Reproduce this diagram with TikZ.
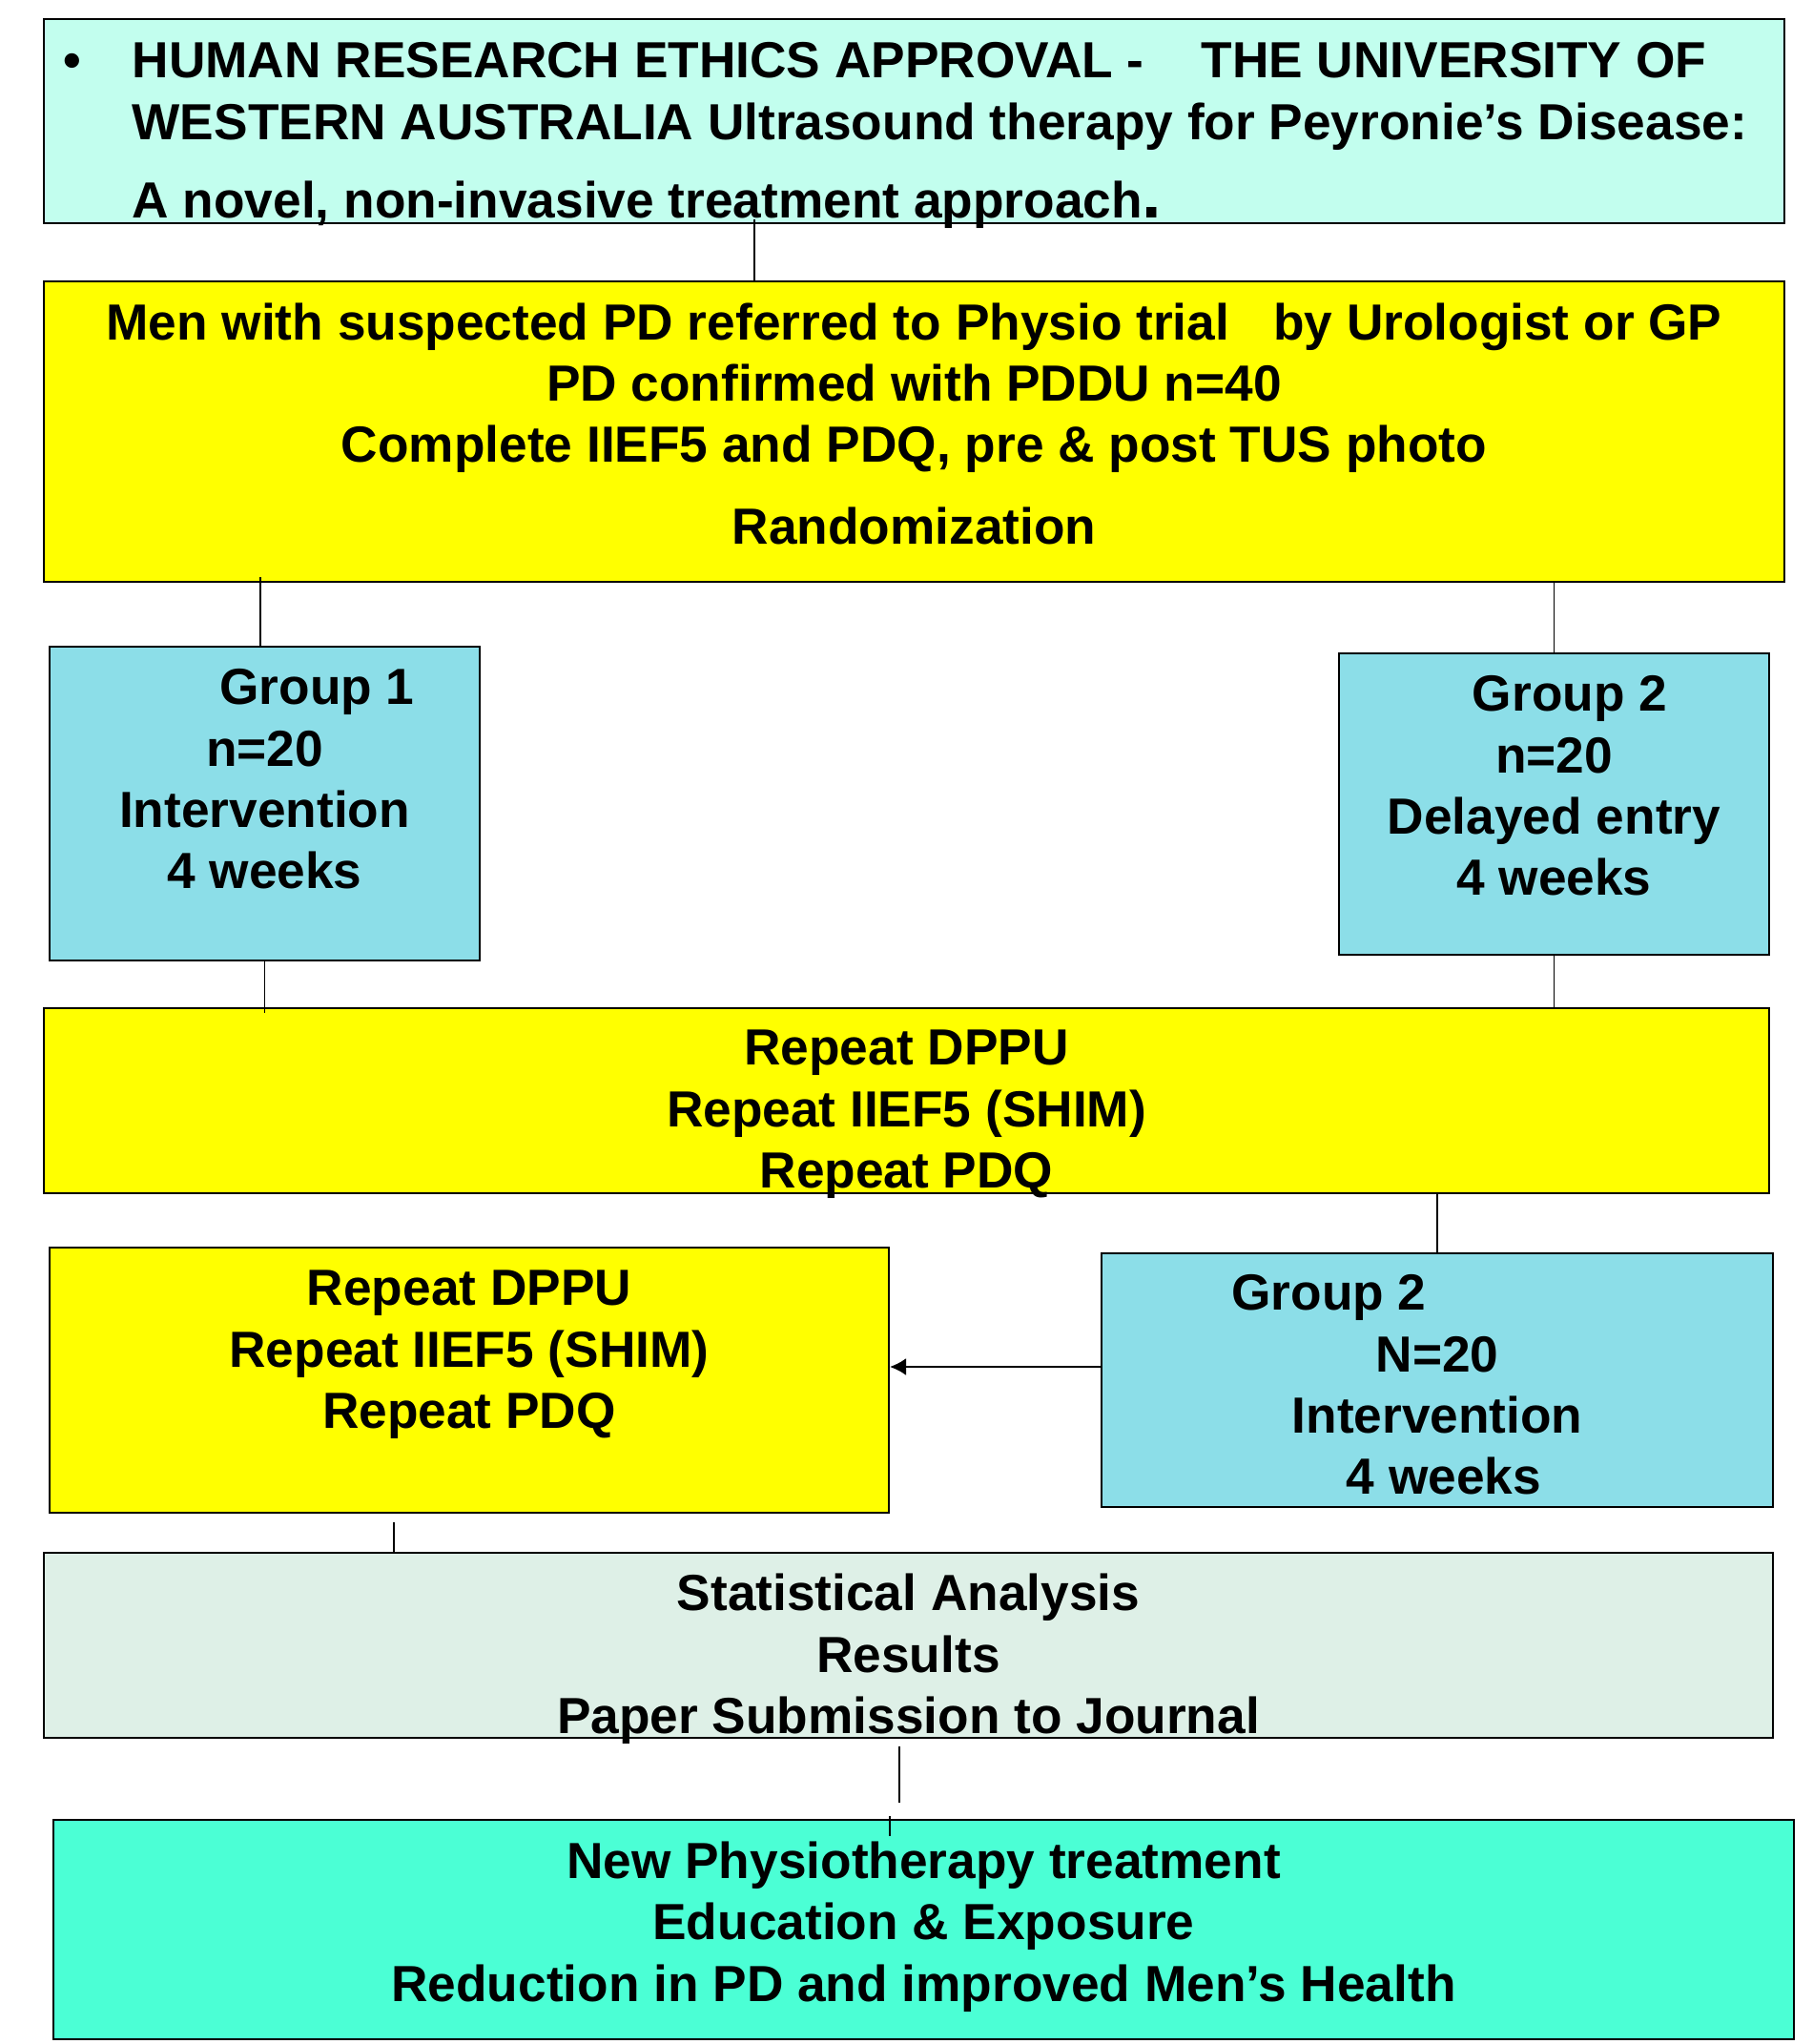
\documentclass[tikz,border=0pt]{standalone}
\usepackage{fontspec}
\setmainfont{Liberation Sans}
\usetikzlibrary{arrows.meta,positioning,calc}
\definecolor{mint}{HTML}{C2FEEE}
\definecolor{lemon}{HTML}{FFFF00}
\definecolor{sky}{HTML}{8CDEE8}
\definecolor{mist}{HTML}{DEF0E7}
\definecolor{aqua}{HTML}{4BFFD5}
\tikzset{box/.style={draw=black,line width=0.6pt,inner sep=0pt}, txt/.style={font=\fontsize{15.15}{18.3}\selectfont\bfseries,align=center,inner sep=0pt}, link/.style={draw=black,line width=0.45pt}, flow/.style={-{Latex[length=1.7mm,width=1.8mm]},line width=0.6pt,draw=black}}

\begin{document}
\begin{tikzpicture}[x=1cm,y=1cm]
\useasboundingbox (0,0) rectangle (19,-21.43);
% boxes
\node[box,fill=mint,minimum width=18.25cm,minimum height=2.14cm] (head) at (9.585,-1.27) {};
\node[box,fill=lemon,minimum width=18.25cm,minimum height=3.15cm] (intake) at (9.585,-4.525) {};
\node[box,fill=sky,minimum width=4.51cm,minimum height=3.29cm] (grp1) at (2.775,-8.425) {};
\node[box,fill=sky,minimum width=4.51cm,minimum height=3.16cm] (grp2) at (16.295,-8.43) {};
\node[box,fill=lemon,minimum width=18.09cm,minimum height=1.94cm] (rep1) at (9.505,-11.54) {};
\node[box,fill=lemon,minimum width=8.80cm,minimum height=2.78cm] (rep2) at (4.92,-14.47) {};
\node[box,fill=sky,minimum width=7.04cm,minimum height=2.66cm] (late) at (15.07,-14.47) {};
\node[box,fill=mist,minimum width=18.13cm,minimum height=1.94cm] (stats) at (9.525,-17.25) {};
\node[box,fill=aqua,minimum width=18.25cm,minimum height=2.30cm] (outcome) at (9.685,-20.23) {};
% texts
\node[txt,align=left,anchor=north west] (headtxt) at (1.38,-0.44) {\llap{\textbullet\hspace{0.54cm}}HUMAN RESEARCH ETHICS APPROVAL -\hspace{0.6cm}THE UNIVERSITY OF\\WESTERN AUSTRALIA Ultrasound therapy for Peyronie’s Disease:\\[0.18cm]A novel, non-invasive treatment approach{\fontsize{21}{21}\selectfont.}};
\node[txt] (intaketxt) at (9.585,-4.44) {Men with suspected PD referred to Physio trial\hspace{0.46cm}by Urologist or GP\\PD confirmed with PDDU n=40\\Complete IIEF5 and PDQ, pre \& post TUS photo\\[0.21cm]Randomization};
\node[txt] (grp1txt) at ([yshift=2.55mm]grp1.center) {\hspace*{1.1cm}Group 1\\n=20\\Intervention\\4 weeks};
\node[txt] (grp2txt) at ([yshift=1.9mm]grp2.center) {\hspace*{0.33cm}Group 2\\n=20\\Delayed entry\\4 weeks};
\node[txt] (rep1txt) at ([yshift=-1.45mm]rep1.center) {Repeat DPPU\\Repeat IIEF5 (SHIM)\\Repeat PDQ};
\node[txt] (rep2txt) at ([yshift=2.65mm]rep2.center) {Repeat DPPU\\Repeat IIEF5 (SHIM)\\Repeat PDQ};
\node[txt] (latetxt) at ([yshift=-0.5mm]late.center) {Group 2\hspace*{2.27cm}\\N=20\\Intervention\\\hspace*{0.14cm}4 weeks};
\node[txt] (statstxt) at ([yshift=-1.45mm]stats.center) {Statistical Analysis\\Results\\Paper Submission to Journal};
\node[txt] (outcometxt) at ([yshift=0.3mm]outcome.center) {New Physiotherapy treatment\\Education \& Exposure\\Reduction in PD and improved Men’s Health};
% connectors
\draw[link] ([xshift=-16.75mm,yshift=0.5mm]head.south) -- ([xshift=-16.75mm]head.south |- intake.north);
\draw[link] ([xshift=-0.45mm,yshift=0.6mm]grp1.north |- intake.south) -- ([xshift=-0.45mm]grp1.north);
\draw[link] (grp2.north |- intake.south) -- (grp2.north);
\draw[link] (grp1.south) -- ([yshift=-0.6mm]grp1.south |- rep1.north);
\draw[link] (grp2.south) -- (grp2.south |- rep1.north);
\draw[link] (rep1.south -| late.north) -- (late.north);
\draw[flow] ([yshift=1.4mm]late.west) -- ([yshift=1.4mm]late.west -| rep2.east);
\draw[link] ([xshift=-7.9mm,yshift=-0.9mm]rep2.south) -- ([xshift=-7.9mm]rep2.south |- stats.north);
\draw[link] ([xshift=-0.95mm,yshift=-0.8mm]stats.south) -- ([xshift=-0.95mm,yshift=1.7mm]stats.south |- outcome.north);
\draw[link] ([xshift=-3.55mm,yshift=0.3mm]outcome.north) -- ([xshift=-3.55mm,yshift=-1.8mm]outcome.north);
\end{tikzpicture}
\end{document}
